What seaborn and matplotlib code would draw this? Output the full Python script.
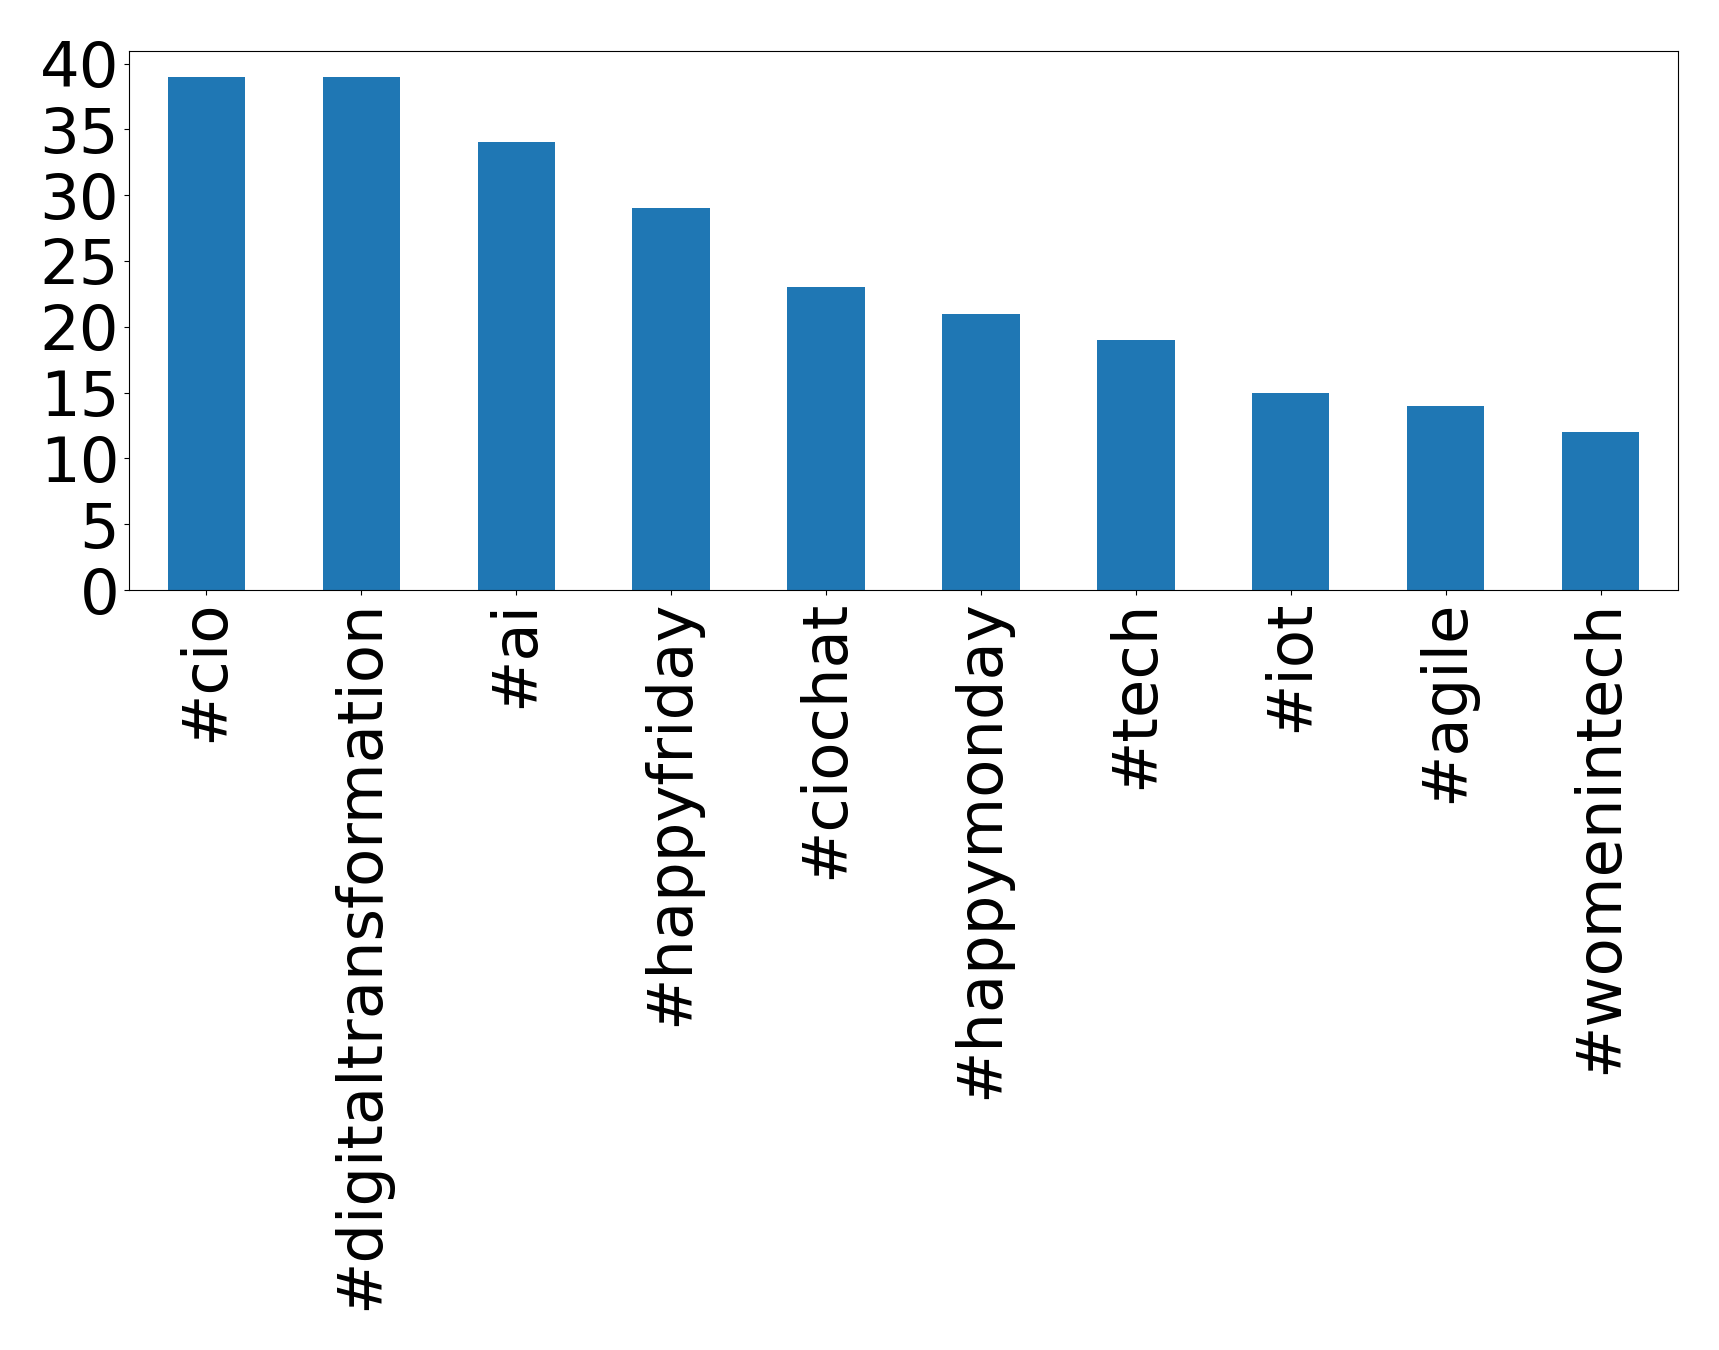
import pandas as pd
import seaborn as sns
import matplotlib.pyplot as plt

# hashtag counts
hashtags = ['#cio', '#digitaltransformation', '#ai', '#happyfriday', '#ciochat',
            '#happymonday', '#tech', '#iot', '#agile', '#womenintech']
counts = [39, 39, 34, 29, 23, 21, 19, 15, 14, 12]

df = pd.DataFrame({'hashtag': hashtags, 'count': counts})

fig = plt.figure(figsize=(17.19, 13.5), dpi=100)
ax = fig.add_axes([129 / 1719, 1 - 590 / 1350, (1678 - 129) / 1719, (590 - 51) / 1350])

sns.barplot(data=df, x='hashtag', y='count', color='#1f77b4', saturation=1,
            width=0.5, ax=ax)

ax.set_xlim(-0.5, len(hashtags) - 0.5)
ax.set_ylim(0, max(counts) * 1.05)
ax.set_yticks(range(0, 41, 5))
ax.set_xlabel('')
ax.set_ylabel('')
ax.tick_params(axis='both', labelsize=45)
plt.setp(ax.get_xticklabels(), rotation=90)

fig.savefig('out.png', dpi=100)
